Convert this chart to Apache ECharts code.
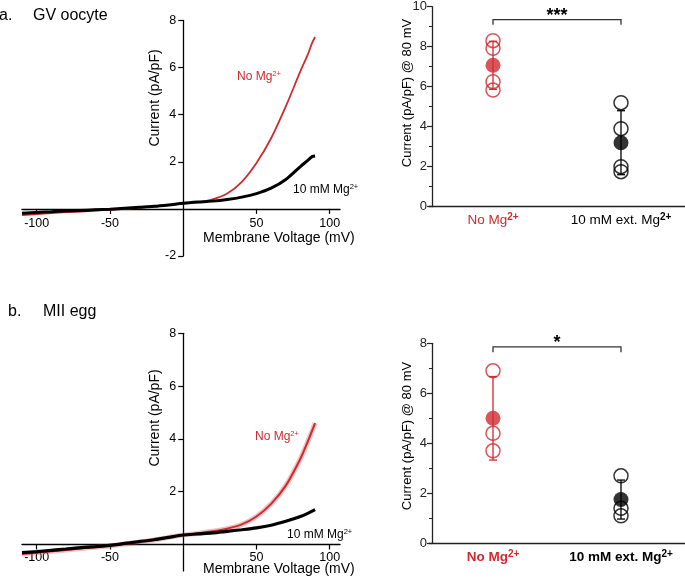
<!DOCTYPE html>
<html><head><meta charset="utf-8">
<script src="https://cdn.jsdelivr.net/npm/echarts@6/dist/echarts.min.js"></script>
<style>html,body{margin:0;padding:0;background:#fff}#c{width:685px;height:579px}</style>
</head><body><div id="c"></div>
<script>
const FONT = 'Liberation Sans, Arial, Helvetica, sans-serif';
const RED = '#cf2a2f';
const BLACK = '#000';

// ---- I-V curves (panel a: GV oocyte) ----
const voltageGV = [-110,-100,-90,-80,-70,-60,-50,-40,-30,-20,-10,0,10,20,30,40,50,60,70,80,85,88,90];
const currentGVNoMg = [-0.26,-0.22,-0.18,-0.14,-0.11,-0.07,-0.04,0.0,0.05,0.1,0.16,0.23,0.28,0.4,0.65,1.15,1.95,3.0,4.35,5.85,6.55,7.05,7.3];
const currentGVMg   = [-0.18,-0.15,-0.12,-0.09,-0.07,-0.04,-0.01,0.03,0.07,0.11,0.17,0.24,0.29,0.33,0.4,0.5,0.65,0.88,1.25,1.8,2.06,2.22,2.25];
// ---- I-V curves (panel b: MII egg) ----
const voltageMII = [-110,-100,-90,-80,-70,-60,-50,-40,-30,-20,-10,0,10,20,30,40,50,60,70,80,85,90];
const currentMIINoMg = [-0.36,-0.31,-0.26,-0.21,-0.15,-0.1,-0.05,0.02,0.1,0.17,0.27,0.36,0.42,0.5,0.6,0.76,1.06,1.54,2.23,3.25,3.9,4.6];
const currentMIIMg   = [-0.31,-0.27,-0.22,-0.17,-0.12,-0.08,-0.03,0.04,0.11,0.18,0.27,0.36,0.4,0.44,0.5,0.56,0.63,0.73,0.88,1.06,1.18,1.32];

const xTicksIV = [-100,-50,50,100];
const yTicksGV = [-2,2,4,6,8];
const yTicksMII = [2,4,6,8];

// ---- dot plots: current at 80 mV ----
const groupNames = ['No Mg', '10 mM ext. Mg'];
const groupSup = '2+';
const gvNoMgPoints = [8.3, 7.92, 6.25, 5.83];
const gvMgPoints = [5.2, 3.9, 2.0, 1.75];
const gvMeans = [7.07, 3.2];
const gvSD = [1.2, 1.6];
const miiNoMgPoints = [6.9, 4.4, 3.7];
const miiMgPoints = [2.7, 1.4, 1.1];
const miiMeans = [5.0, 1.75];
const miiSD = [1.67, 0.78];
const gvSig = ['***', 9.35, 9.1];
const miiSig = ['*', 7.86, 7.64];

const pair = (xs, ys) => xs.map((x, i) => [x, ys[i]]);

const chart = echarts.init(document.getElementById('c'), null, {renderer: 'canvas'});

// geometry of the I-V grids
const IV_LEFT = 22, IV_WIDTH = 318, X_MIN = -110, X_MAX = 107;
const GV_TOP = 20.5, GV_H = 235.5, GV_MIN = -2;
const MII_TOP = 333.3, MII_H = 237.6, MII_MIN = -1;
const Y_MAX = 8;
const yAxisShift = -(0 - X_MIN) / (X_MAX - X_MIN) * IV_WIDTH;      // move y axis to V = 0
const xShiftGV = -(0 - GV_MIN) / (Y_MAX - GV_MIN) * GV_H;           // move x axis to I = 0
const xShiftMII = -(0 - MII_MIN) / (Y_MAX - MII_MIN) * MII_H;

function ivXAxis(gridIndex, off, margin) {
  return {
    type: 'value', gridIndex, min: X_MIN, max: X_MAX, position: 'bottom', offset: off,
    axisLine: {onZero: false, lineStyle: {color: BLACK, width: 1.3}},
    axisTick: {show: true, length: 5, customValues: xTicksIV, lineStyle: {color: BLACK, width: 1.2}},
    axisLabel: {customValues: xTicksIV, color: BLACK, fontFamily: FONT, fontSize: 12.5, margin,
      formatter: v => (v === 0 ? '' : String(v))},
    splitLine: {show: false}
  };
}
function ivYAxis(gridIndex, min, ticks) {
  return {
    type: 'value', gridIndex, min, max: Y_MAX, interval: 1, position: 'left', offset: yAxisShift,
    axisLine: {show: true, onZero: false, lineStyle: {color: BLACK, width: 1.3}},
    axisTick: {show: true, length: 5, customValues: ticks, lineStyle: {color: BLACK, width: 1.2}},
    axisLabel: {customValues: ticks, color: BLACK, fontFamily: FONT, fontSize: 12.5, margin: 7,
      formatter: v => (v === 0 ? '' : String(v))},
    splitLine: {show: false}
  };
}
function dotXAxis(gridIndex, bold) {
  return {
    type: 'category', gridIndex, data: groupNames,
    axisLine: {onZero: false, lineStyle: {color: '#222', width: 1.3}},
    axisTick: {show: false},
    axisLabel: {
      margin: 6, interval: 0,
      formatter: (v, i) => i === 0 ? '{r|' + v + '}{rs|' + groupSup + '}' : '{k|' + v + '}{ks|' + groupSup + '}',
      rich: {
        r: {color: RED, fontFamily: FONT, fontSize: 13.5, fontWeight: bold ? 'bold' : 'normal', lineHeight: 16},
        rs: {color: RED, fontFamily: FONT, fontSize: 10, fontWeight: 'bold', verticalAlign: 'top', lineHeight: 16},
        k: {color: BLACK, fontFamily: FONT, fontSize: 13.5, fontWeight: bold ? 'bold' : 'normal', lineHeight: 16},
        ks: {color: BLACK, fontFamily: FONT, fontSize: 10, fontWeight: 'bold', verticalAlign: 'top', lineHeight: 16}
      }
    }
  };
}
function dotYAxis(gridIndex, max) {
  return {
    type: 'value', gridIndex, min: 0, max, interval: 2, offset: -3,
    axisLine: {show: true, onZero: false, lineStyle: {color: '#222', width: 1.3}},
    axisTick: {show: true, length: 5, lineStyle: {color: '#222', width: 1.2}},
    minorTick: {show: true, splitNumber: 2, length: 3, lineStyle: {color: '#222', width: 1}},
    axisLabel: {color: '#222', fontFamily: FONT, fontSize: 13, margin: 5},
    splitLine: {show: false}
  };
}

function errRender(params, api) {
  const x = api.value(0), m = api.value(1), s = api.value(2);
  const top = api.coord([x, m + s]), bot = api.coord([x, m - s]);
  const c = x === 0 ? RED : BLACK;
  const w = 4;
  const st = {stroke: c, lineWidth: 1.3};
  return {type: 'group', children: [
    {type: 'line', shape: {x1: top[0], y1: top[1], x2: bot[0], y2: bot[1]}, style: st},
    {type: 'line', shape: {x1: top[0] - w, y1: top[1], x2: top[0] + w, y2: top[1]}, style: st},
    {type: 'line', shape: {x1: bot[0] - w, y1: bot[1], x2: bot[0] + w, y2: bot[1]}, style: st}
  ]};
}
function bracketSeries(xi, yi, sig) {
  return {
    type: 'custom', xAxisIndex: xi, yAxisIndex: yi, clip: false, z: 5,
    data: [[0, sig[1], 1, sig[2]]],
    encode: {x: [0, 2], y: [1, 3]},
    renderItem: (params, api) => {
      const a0 = api.coord([0, api.value(3)]);
      const a1 = api.coord([0, api.value(1)]);
      const b1 = api.coord([1, api.value(1)]);
      const b0 = api.coord([1, api.value(3)]);
      return {type: 'group', children: [
        {type: 'polyline', shape: {points: [a0, a1, b1, b0]}, style: {stroke: '#333', lineWidth: 1.3, fill: null}},
        {type: 'text', x: (a1[0] + b1[0]) / 2, y: a1[1] - 4,
          style: {text: sig[0], fill: BLACK, font: 'bold 18px ' + FONT, align: 'center', verticalAlign: 'middle',
            textAlign: 'center', textVerticalAlign: 'middle'}}
      ]};
    }
  };
}
function openPts(xi, yi, cat, vals, color) {
  return {type: 'scatter', xAxisIndex: xi, yAxisIndex: yi, symbol: 'circle', symbolSize: 14,
    data: vals.map(v => [cat, v]),
    itemStyle: {color: 'rgba(255,255,255,0)', borderColor: color, borderWidth: 1.5}, z: 3};
}
function meanPts(xi, yi, means) {
  return {type: 'scatter', xAxisIndex: xi, yAxisIndex: yi, symbol: 'circle', symbolSize: 15,
    data: means.map((m, i) => ({value: [i, m], itemStyle: {color: i === 0 ? RED : BLACK}})), z: 4};
}

function rotName(x, y, text, size) {
  return {type: 'text', x, y, rotation: Math.PI / 2,
    style: {text, fill: BLACK, font: size + 'px ' + FONT, align: 'center', verticalAlign: 'middle',
      textAlign: 'center', textVerticalAlign: 'middle'}};
}
function supLabel(left, top, main, color) {
  return {type: 'text', left, top,
    style: {text: '{a|' + main + '}{b|' + groupSup + '}', fill: color,
      rich: {a: {fontSize: 12, fontFamily: FONT, fill: color, color, lineHeight: 14},
             b: {fontSize: 7.5, fontFamily: FONT, fill: color, color, verticalAlign: 'top', lineHeight: 14}}}};
}

const option = {
  animation: false,
  backgroundColor: '#fff',
  grid: [
    {left: IV_LEFT, top: GV_TOP, width: IV_WIDTH, height: GV_H},
    {left: IV_LEFT, top: MII_TOP, width: IV_WIDTH, height: MII_H},
    {left: 429, top: 6.7, width: 258, height: 200},
    {left: 429, top: 343.3, width: 258, height: 200}
  ],
  xAxis: [ivXAxis(0, xShiftGV, 8), ivXAxis(1, xShiftMII, 7), dotXAxis(2, false), dotXAxis(3, true)],
  yAxis: [ivYAxis(0, GV_MIN, yTicksGV), ivYAxis(1, MII_MIN, yTicksMII), dotYAxis(2, 10), dotYAxis(3, 8)],
  series: [
    {type: 'line', xAxisIndex: 0, yAxisIndex: 0, data: pair(voltageGV, currentGVNoMg), smooth: 0.3,
      showSymbol: false, lineStyle: {color: RED, width: 1.8}},
    {type: 'line', xAxisIndex: 0, yAxisIndex: 0, data: pair(voltageGV, currentGVMg), smooth: 0.3,
      showSymbol: false, lineStyle: {color: BLACK, width: 3}},
    {type: 'line', xAxisIndex: 1, yAxisIndex: 1, data: pair(voltageMII, currentMIINoMg), smooth: 0.3,
      showSymbol: false, lineStyle: {color: 'rgba(214,80,85,0.35)', width: 5}},
    {type: 'line', xAxisIndex: 1, yAxisIndex: 1, data: pair(voltageMII, currentMIINoMg), smooth: 0.3,
      showSymbol: false, lineStyle: {color: RED, width: 2}},
    {type: 'line', xAxisIndex: 1, yAxisIndex: 1, data: pair(voltageMII, currentMIIMg), smooth: 0.3,
      showSymbol: false, lineStyle: {color: BLACK, width: 3.2}},

    {type: 'custom', xAxisIndex: 2, yAxisIndex: 2, renderItem: errRender, encode: {x: 0, y: 1},
      data: gvMeans.map((m, i) => [i, m, gvSD[i]]), z: 2},
    openPts(2, 2, 0, gvNoMgPoints, RED),
    openPts(2, 2, 1, gvMgPoints, BLACK),
    meanPts(2, 2, gvMeans),
    bracketSeries(2, 2, gvSig),

    {type: 'custom', xAxisIndex: 3, yAxisIndex: 3, renderItem: errRender, encode: {x: 0, y: 1},
      data: miiMeans.map((m, i) => [i, m, miiSD[i]]), z: 2},
    openPts(3, 3, 0, miiNoMgPoints, RED),
    openPts(3, 3, 1, miiMgPoints, BLACK),
    meanPts(3, 3, miiMeans),
    bracketSeries(3, 3, miiSig)
  ],
  graphic: [
    {type: 'text', left: -1, top: 8, style: {text: 'a.', fill: BLACK, font: '16px ' + FONT}},
    {type: 'text', left: 33, top: 8, style: {text: 'GV oocyte', fill: BLACK, font: '16px ' + FONT}},
    {type: 'text', left: 8, top: 304, style: {text: 'b.', fill: BLACK, font: '16px ' + FONT}},
    {type: 'text', left: 43, top: 304, style: {text: 'MII egg', fill: BLACK, font: '16px ' + FONT}},
    rotName(155, 98, 'Current (pA/pF)', 14),
    rotName(155, 418, 'Current (pA/pF)', 14),
    rotName(407, 93, 'Current (pA/pF) @ 80 mV', 13),
    rotName(407, 436, 'Current (pA/pF) @ 80 mV', 13),
    {type: 'text', left: 203, top: 231, style: {text: 'Membrane Voltage (mV)', fill: BLACK, font: '14px ' + FONT}},
    {type: 'text', left: 203, top: 562, style: {text: 'Membrane Voltage (mV)', fill: BLACK, font: '14px ' + FONT}},
    supLabel(237, 70, 'No Mg', RED),
    supLabel(293, 183, '10 mM Mg', BLACK),
    supLabel(255, 430, 'No Mg', RED),
    supLabel(287, 528, '10 mM Mg', BLACK)
  ]
};
chart.setOption(option);
</script>
</body></html>
